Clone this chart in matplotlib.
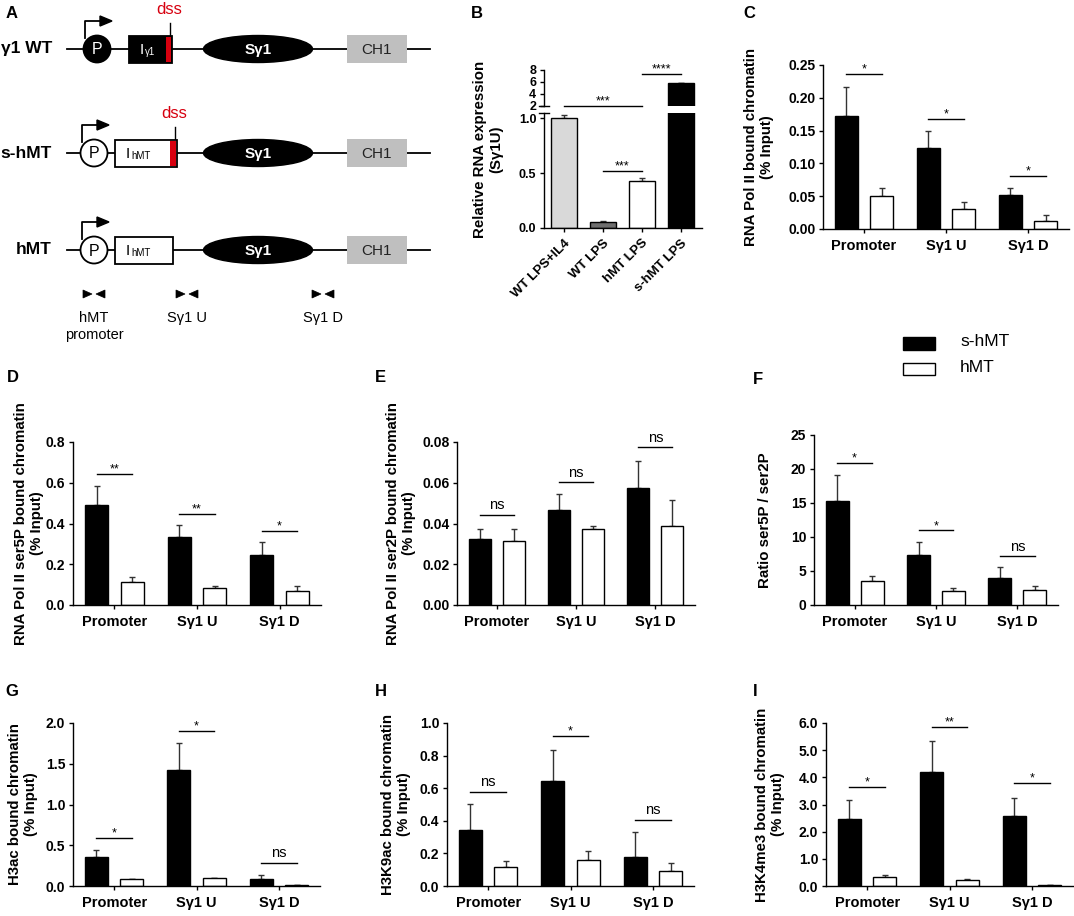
import matplotlib
matplotlib.use('Agg')
import matplotlib.pyplot as plt
import matplotlib.patches as patches
import numpy as np

plt.rcParams['font.family'] = ['Liberation Sans', 'DejaVu Sans']

W, H = 1074, 916

# ---- data ----
sites = ['Promoter', 'Sγ1 U', 'Sγ1 D']

# B: relative RNA expression (Sγ1U)
b_groups = ['WT LPS+IL4', 'WT LPS', 'hMT LPS', 's-hMT LPS']
b_vals = [1.0, 0.055, 0.425, 5.85]
b_err = [0.03, 0.012, 0.03, 0.05]
b_colors = ['#d9d9d9', '#6e6e6e', 'white', 'black']

# C: RNA Pol II
c_shmt = [0.173, 0.123, 0.052]
c_shmt_err = [0.043, 0.026, 0.010]
c_hmt = [0.050, 0.030, 0.012]
c_hmt_err = [0.013, 0.011, 0.010]
c_sig = ['*', '*', '*']
c_sig_y = [0.236, 0.168, 0.081]

# D: ser5P
d_shmt = [0.49, 0.335, 0.245]
d_shmt_err = [0.095, 0.057, 0.065]
d_hmt = [0.114, 0.085, 0.07]
d_hmt_err = [0.021, 0.010, 0.025]
d_sig = ['**', '**', '*']
d_sig_y = [0.642, 0.446, 0.364]

# E: ser2P
e_shmt = [0.0325, 0.0468, 0.0573]
e_shmt_err = [0.0047, 0.0076, 0.0134]
e_hmt = [0.0315, 0.0372, 0.0387]
e_hmt_err = [0.0057, 0.0015, 0.0127]
e_sig = ['ns', 'ns', 'ns']
e_sig_y = [0.0441, 0.0602, 0.0774]

# F: ratio ser5P / ser2P
f_shmt = [15.3, 7.3, 3.97]
f_shmt_err = [3.86, 1.9, 1.62]
f_hmt = [3.49, 2.03, 2.17]
f_hmt_err = [0.74, 0.53, 0.59]
f_sig = ['*', '*', 'ns']
f_sig_y = [20.94, 10.97, 7.16]

# G: H3ac
g_shmt = [0.357, 1.42, 0.082]
g_shmt_err = [0.083, 0.334, 0.058]
g_hmt = [0.082, 0.094, 0.012]
g_hmt_err = [0.008, 0.004, 0.003]
g_sig = ['*', '*', 'ns']
g_sig_y = [0.591, 1.905, 0.279]

# H: H3K9ac
h_shmt = [0.344, 0.642, 0.18]
h_shmt_err = [0.16, 0.194, 0.15]
h_hmt = [0.119, 0.16, 0.094]
h_hmt_err = [0.035, 0.057, 0.046]
h_sig = ['ns', '*', 'ns']
h_sig_y = [0.576, 0.922, 0.406]

# I: H3K4me3
i_shmt = [2.45, 4.21, 2.57]
i_shmt_err = [0.70, 1.11, 0.68]
i_hmt = [0.33, 0.21, 0.03]
i_hmt_err = [0.09, 0.05, 0.01]
i_sig = ['*', '**', '*']
i_sig_y = [3.66, 5.85, 3.78]

fig = plt.figure(figsize=(W / 100, H / 100), dpi=100)


def px_axes(left, top, right, bottom):
    return fig.add_axes([left / W, 1 - bottom / H, (right - left) / W, (bottom - top) / H])


def ftext(x, y, s, **kw):
    fig.text(x / W, 1 - y / H, s, **kw)


# full-figure canvas in pixel units for the schematic
canvas = fig.add_axes([0, 0, 1, 1])
canvas.set_xlim(0, W)
canvas.set_ylim(H, 0)
canvas.axis('off')

# ---- panel A: schematic ----
rows = [
    dict(name='γ1 WT', y=49, p_x=97, p_fill='black', box=(129, 172), box_fill='black',
         sub='γ1', red=(166, 171), txt='white'),
    dict(name='s-hMT', y=153, p_x=94, p_fill='white', box=(115, 177), box_fill='white',
         sub='hMT', red=(170, 176), txt='black'),
    dict(name='hMT', y=250, p_x=94, p_fill='white', box=(115, 173), box_fill='white',
         sub='hMT', red=None, txt='black'),
]
lw_s = 1.3
for r in rows:
    y = r['y']
    canvas.plot([67, 430], [y, y], color='black', lw=lw_s, zorder=1)
    ftext(52, y, r['name'], ha='right', va='center', fontsize=12.5, fontweight='bold')
    # promoter
    canvas.add_patch(patches.Circle((r['p_x'], y), 13.5, facecolor=r['p_fill'],
                                    edgecolor='black', lw=lw_s, zorder=3))
    canvas.text(r['p_x'], y + 1, 'P', ha='center', va='center', fontsize=11.5,
                color='white' if r['p_fill'] == 'black' else 'black', zorder=4)
    ax_x = r['p_x'] - 12
    canvas.plot([ax_x, ax_x, ax_x + 16], [y - 11, y - 28, y - 28], color='black', lw=lw_s, zorder=2)
    canvas.add_patch(patches.Polygon([(ax_x + 15, y - 33), (ax_x + 27, y - 28), (ax_x + 15, y - 23)],
                                     closed=True, facecolor='black', edgecolor='black', zorder=2))
    # I exon
    bx0, bx1 = r['box']
    canvas.add_patch(patches.Rectangle((bx0, y - 13.5), bx1 - bx0, 27, facecolor=r['box_fill'],
                                       edgecolor='black', lw=lw_s, zorder=3))
    canvas.text(bx0 + 15, y + 1, 'I', ha='right', va='center', fontsize=11, color=r['txt'], zorder=4)
    canvas.text(bx0 + 16, y + 3, r['sub'], ha='left', va='center', fontsize=7, color=r['txt'], zorder=4)
    if r['red'] is not None:
        rx0, rx1 = r['red']
        canvas.add_patch(patches.Rectangle((rx0, y - 12.5), rx1 - rx0, 25, facecolor='#d7000f',
                                           edgecolor='none', zorder=4))
        canvas.plot([rx1 - 1, rx1 - 1], [y - 13.5, y - 26], color='black', lw=1, zorder=2)
        canvas.text(rx1 - 2, y - 40, 'dss', ha='center', va='center', fontsize=12,
                    color='#d7000f')
    # switch region
    canvas.add_patch(patches.Ellipse((258, y), 109, 27, facecolor='black', edgecolor='black', zorder=3))
    canvas.text(258, y + 1, 'Sγ1', ha='center', va='center', fontsize=11, fontweight='bold',
                color='white', zorder=4)
    # CH1
    canvas.add_patch(patches.Rectangle((347, y - 14), 60, 28, facecolor='#bfbfbf',
                                       edgecolor='none', zorder=3))
    canvas.text(377, y + 1, 'CH1', ha='center', va='center', fontsize=11, color='#222222', zorder=4)

# primers
primer_x = [94, 187, 323]
primer_lbl = ['hMT\npromoter', 'Sγ1 U', 'Sγ1 D']
for px, lbl in zip(primer_x, primer_lbl):
    canvas.add_patch(patches.Polygon([(px - 11, 290), (px - 2, 294), (px - 11, 298)], closed=True,
                                     facecolor='black', edgecolor='black', lw=0.5))
    canvas.add_patch(patches.Polygon([(px + 11, 290), (px + 2, 294), (px + 11, 298)], closed=True,
                                     facecolor='black', edgecolor='black', lw=0.5))
    ftext(px, 311, lbl, ha='center', va='top', fontsize=10.5, linespacing=1.25)

# ---- legend ----
canvas.add_patch(patches.Rectangle((903, 337), 32, 13, facecolor='black', edgecolor='black', lw=1))
canvas.add_patch(patches.Rectangle((903, 363), 32, 12, facecolor='white', edgecolor='black', lw=1))
ftext(960, 342, 's-hMT', ha='left', va='center', fontsize=12.5)
ftext(960, 368, 'hMT', ha='left', va='center', fontsize=12.5)

# ---- panel letters ----
for letter, lx, ly in [('A', 12, 13), ('B', 477, 13), ('C', 749, 13), ('D', 13, 378),
                       ('E', 380, 378), ('F', 758, 379), ('G', 12, 692), ('H', 381, 692),
                       ('I', 755, 692)]:
    ftext(lx, ly, letter, ha='center', va='center', fontsize=12, fontweight='bold')

TICK_FS = 10
YLAB_FS = 10.8


def style_axes(ax, fs=TICK_FS):
    for sp in ['top', 'right']:
        ax.spines[sp].set_visible(False)
    for sp in ['left', 'bottom']:
        ax.spines[sp].set_linewidth(1.0)
    ax.tick_params(axis='both', direction='out', length=3, width=1, labelsize=fs)
    ax.tick_params(axis='y', pad=2.5)
    for t in ax.get_yticklabels():
        t.set_fontweight('bold')


def sig_mark(ax, x0, x1, y, s):
    ax.plot([x0, x1], [y, y], color='black', lw=1, clip_on=False)
    xm = (x0 + x1) / 2
    if s == 'ns':
        ax.annotate(s, (xm, y), xytext=(0, 2), textcoords='offset points', ha='center',
                    va='bottom', fontsize=10.5, annotation_clip=False)
    else:
        ax.annotate(s, (xm, y), xytext=(0, 1), textcoords='offset points', ha='center',
                    va='baseline', fontsize=9, annotation_clip=False)


def chip_panel(box, shmt, shmt_err, hmt, hmt_err, sig, sig_y, yticks, fmt, ylabel, label_x):
    ax = px_axes(*box)
    x = np.arange(len(sites))
    off, w = 0.215, 0.28
    ax.bar(x - off, shmt, w, color='black', edgecolor='black', linewidth=1, zorder=2)
    ax.bar(x + off, hmt, w, color='white', edgecolor='black', linewidth=1, zorder=2)
    ax.errorbar(x - off, shmt, yerr=[np.zeros(len(x)), shmt_err], fmt='none', ecolor='#333333',
                elinewidth=1, capsize=2.5, capthick=1, zorder=1)
    ax.errorbar(x + off, hmt, yerr=[np.zeros(len(x)), hmt_err], fmt='none', ecolor='#333333',
                elinewidth=1, capsize=2.5, capthick=1, zorder=1)
    ax.set_xlim(-0.5, 2.5)
    ax.set_ylim(yticks[0], yticks[-1])
    ax.set_yticks(yticks)
    ax.set_yticklabels([fmt.format(t) for t in yticks])
    ax.set_xticks(x)
    ax.set_xticklabels(sites, fontsize=10, fontweight='bold')
    style_axes(ax)
    ax.tick_params(axis='x', pad=4, labelsize=10.5)
    for xi, s, yy in zip(x, sig, sig_y):
        sig_mark(ax, xi - off, xi + off, yy, s)
    yc = (box[1] + box[3]) / 2
    ftext(label_x, yc, ylabel, rotation=90, ha='center', va='center', fontsize=YLAB_FS,
          fontweight='bold', linespacing=1.2, multialignment='center')
    return ax


chip_panel((823, 65, 1069, 229), c_shmt, c_shmt_err, c_hmt, c_hmt_err, c_sig, c_sig_y,
           np.arange(0, 0.2501, 0.05), '{:.2f}', 'RNA Pol II bound chromatin\n(% Input)', 759)
chip_panel((73, 442, 321, 605), d_shmt, d_shmt_err, d_hmt, d_hmt_err, d_sig, d_sig_y,
           np.arange(0, 0.801, 0.2), '{:.1f}', 'RNA Pol II ser5P bound chromatin\n(% Input)', 29)
chip_panel((457, 442, 695, 605), e_shmt, e_shmt_err, e_hmt, e_hmt_err, e_sig, e_sig_y,
           np.arange(0, 0.0801, 0.02), '{:.2f}', 'RNA Pol II ser2P bound chromatin\n(% Input)', 401)
chip_panel((814, 435, 1058, 605), f_shmt, f_shmt_err, f_hmt, f_hmt_err, f_sig, f_sig_y,
           np.arange(0, 25.1, 5), '{:.0f}', 'Ratio ser5P / ser2P', 765)
chip_panel((73, 723, 320, 886), g_shmt, g_shmt_err, g_hmt, g_hmt_err, g_sig, g_sig_y,
           np.arange(0, 2.01, 0.5), '{:.1f}', 'H3ac bound chromatin\n(% Input)', 23)
chip_panel((447, 723, 694, 886), h_shmt, h_shmt_err, h_hmt, h_hmt_err, h_sig, h_sig_y,
           np.arange(0, 1.01, 0.2), '{:.1f}', 'H3K9ac bound chromatin\n(% Input)', 396)
chip_panel((826, 723, 1073, 886), i_shmt, i_shmt_err, i_hmt, i_hmt_err, i_sig, i_sig_y,
           np.arange(0, 6.01, 1.0), '{:.1f}', 'H3K4me3 bound chromatin\n(% Input)', 770)

# ---- panel B: broken y axis ----
bx = np.arange(len(b_groups))
b_lo = px_axes(544, 113, 702, 228)
b_hi = px_axes(544, 70, 702, 106)
for ax in (b_lo, b_hi):
    ax.bar(bx, b_vals, 0.67, color=b_colors, edgecolor='black', linewidth=1, zorder=2)
    ax.errorbar(bx, b_vals, yerr=[np.zeros(len(bx)), b_err], fmt='none', ecolor='#333333',
                elinewidth=1, capsize=2.5, capthick=1, zorder=1)
    ax.set_xlim(-0.51, 3.54)
    style_axes(ax, fs=9)
b_lo.set_ylim(0, 1.05)
b_lo.set_yticks([0, 0.5, 1.0])
b_lo.set_yticklabels(['0.0', '0.5', '1.0'])
b_hi.set_ylim(2, 8)
b_hi.set_yticks([2, 4, 6, 8])
b_hi.set_yticklabels(['2', '4', '6', '8'])
b_hi.spines['bottom'].set_visible(False)
b_hi.set_xticks([])
b_lo.set_xticks(bx)
b_lo.set_xticklabels(b_groups, rotation=45, ha='right', rotation_mode='anchor', fontsize=9.5,
                     fontweight='bold')
for ax in (b_lo, b_hi):
    for t in ax.get_yticklabels():
        t.set_fontweight('bold')
# break marks on the left spine
for ax, yy in ((b_lo, 1.0), (b_hi, 0.0)):
    ax.plot([-0.03, 0.03], [yy, yy], transform=ax.transAxes, color='black', lw=1, clip_on=False)
sig_mark(b_lo, 1, 2, 0.52, '***')
sig_mark(b_hi, 0, 2, 2.05, '***')
sig_mark(b_hi, 2, 3, 7.35, '****')
ftext(488, 149, 'Relative RNA expression\n(Sγ1U)', rotation=90, ha='center', va='center',
      fontsize=YLAB_FS, fontweight='bold', linespacing=1.2, multialignment='center')

fig.savefig('out.png', dpi=100)
